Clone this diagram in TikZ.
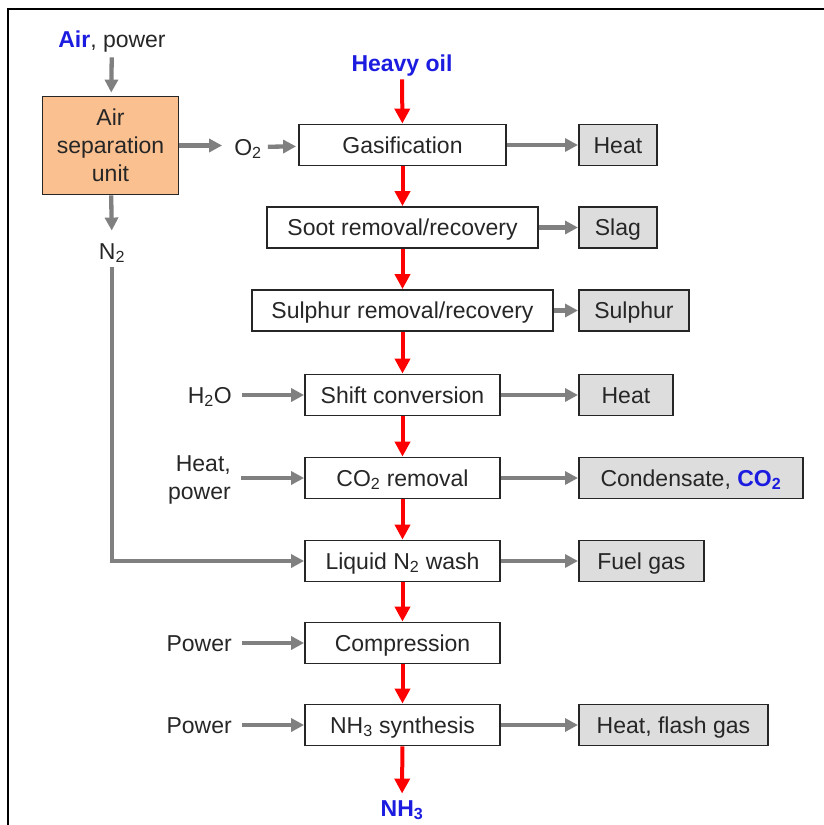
\documentclass[tikz,border=0pt]{standalone}
\usepackage{fontspec}
\setmainfont{Liberation Sans}
\usetikzlibrary{arrows.meta}
\definecolor{ink}{HTML}{262626}
\definecolor{asufill}{HTML}{FAC08F}
\definecolor{outfill}{HTML}{DDDDDD}
\definecolor{flowgray}{HTML}{808080}
\definecolor{keyblue}{HTML}{1C1CE0}
\definecolor{flowred}{HTML}{FF0000}
\begin{document}
\begin{tikzpicture}[x=1pt,y=-1pt,
  font=\fontsize{23}{28}\selectfont, text=ink,
  proc/.style={draw=ink, line width=1.8pt, fill=white, minimum height=41pt, inner sep=0pt,
               text height=20.5pt, text depth=4pt},
  outb/.style={proc, fill=outfill, anchor=west},
  lbl/.style={inner sep=0pt, text height=20.5pt, text depth=4pt},
  key/.style={lbl, text=keyblue, font=\fontsize{23}{28}\selectfont\bfseries},
  gflow/.style={draw=flowgray, line width=4.3pt, -{Triangle[length=13pt,width=13pt]}},
  rflow/.style={draw=flowred, line width=4pt, -{Triangle[length=15pt,width=15pt]}}]
\useasboundingbox (0,0) rectangle (823,825);
\draw[line width=2.6pt, black] (8,830) -- (8,9) -- (830,9);

% main column
\node[proc, minimum width=207] (gas)   at (402.5,145)   {Gasification};
\node[proc, minimum width=271] (soot)  at (402.5,227.5) {Soot removal/recovery};
\node[proc, minimum width=301] (sul)   at (402.5,310.5) {Sulphur removal/recovery};
\node[proc, minimum width=195] (shift) at (402.5,395)   {Shift conversion};
\node[proc, minimum width=195] (co2r)  at (402.5,478)   {CO\textsubscript{2} removal};
\node[proc, minimum width=195] (n2w)   at (402.5,561)   {Liquid N\textsubscript{2} wash};
\node[proc, minimum width=195] (comp)  at (402.5,643)   {Compression};
\node[proc, minimum width=195] (syn)   at (402.5,725)   {NH\textsubscript{3} synthesis};

% outputs
\node[outb, minimum width=78]  (heat1)   at (578,145)   {Heat};
\node[outb, minimum width=78]  (slag)    at (578,227.5) {Slag};
\node[outb, minimum width=110] (sulphur) at (578,310.5) {Sulphur};
\node[outb, minimum width=94]  (heat2)   at (578,395)   {Heat};
\node[outb, minimum width=224] (cond)    at (578,478)   {Condensate, \textcolor{keyblue}{\bfseries CO\textsubscript{2}}};
\node[outb, minimum width=125] (fuel)    at (578,561)   {Fuel gas};
\node[outb, minimum width=189] (flash)   at (578,725)   {Heat, flash gas};

% inputs left
\node[lbl, anchor=east] (h2o) at (232,395) {H\textsubscript{2}O};
\node[inner sep=0pt, anchor=east, align=right] (hp) at (231,480) {Heat,\\power};
\node[lbl, anchor=east] (pw1) at (232,643) {Power};
\node[lbl, anchor=east] (pw2) at (232,725) {Power};

% top and bottom
\node[key] (oil) at (402,63) {Heavy oil};
\node[key] (nh3) at (402,808) {NH\textsubscript{3}};

% air separation
\node[lbl] (air) at (112,39) {\textcolor{keyblue}{\bfseries Air}, power};
\node[draw=ink, line width=1.8pt, fill=asufill, minimum width=136, minimum height=98,
      align=center, inner sep=0pt] (asu) at (110.5,145.5) {Air\\separation\\unit};
\node[lbl] (o2) at (248,147) {O\textsubscript{2}};
\node[lbl] (n2) at (112,251) {N\textsubscript{2}};

% red main flow
\draw[rflow, shorten <=4pt] (oil) -- (gas);
\draw[rflow] (gas) -- (soot);
\draw[rflow] (soot) -- (sul);
\draw[rflow] (sul) -- (shift);
\draw[rflow] (shift) -- (co2r);
\draw[rflow] (co2r) -- (n2w);
\draw[rflow] (n2w) -- (comp);
\draw[rflow] (comp) -- (syn);
\draw[rflow, shorten >=2pt] (syn) -- (nh3);

% gray flows right
\draw[gflow] (gas) -- (heat1);
\draw[gflow] (soot) -- (slag);
\draw[gflow] (sul) -- (sulphur);
\draw[gflow] (shift) -- (heat2);
\draw[gflow] (co2r) -- (cond);
\draw[gflow] (n2w) -- (fuel);
\draw[gflow] (syn) -- (flash);

% gray flows left
\draw[gflow, shorten <=10pt] (h2o) -- (shift);
\draw[gflow, shorten <=10pt] (hp.east |- co2r) -- (co2r);
\draw[gflow, shorten <=10pt] (pw1) -- (comp);
\draw[gflow, shorten <=10pt] (pw2) -- (syn);

% air separation flows
\draw[gflow, shorten <=6pt, shorten >=3pt] (air) -- (asu);
\draw[gflow, shorten >=12pt] (asu.east) -- (o2.west |- asu.east);
\draw[gflow, shorten <=6pt, shorten >=2pt] (o2) -- (gas);
\draw[gflow, shorten >=8pt] (asu) -- (n2);
\draw[draw=flowgray, line width=4.3pt, -{Triangle[length=13pt,width=13pt]}, shorten <=4pt]
  (n2.south) -- (n2.south |- n2w) -- (n2w.west);
\end{tikzpicture}
\end{document}
